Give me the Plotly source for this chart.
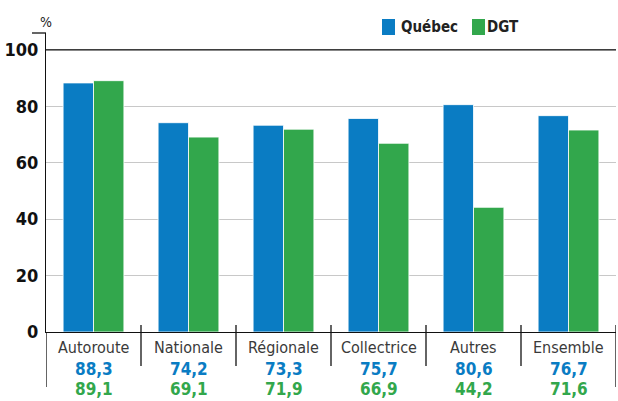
import plotly.graph_objects as go

categories = ["Autoroute", "Nationale", "Régionale", "Collectrice", "Autres", "Ensemble"]
quebec = [88.3, 74.2, 73.3, 75.7, 80.6, 76.7]
dgt = [89.1, 69.1, 71.9, 66.9, 44.2, 71.6]
quebec_labels = ["88,3", "74,2", "73,3", "75,7", "80,6", "76,7"]
dgt_labels = ["89,1", "69,1", "71,9", "66,9", "44,2", "71,6"]
series_names = ["Québec", "DGT"]
y_ticks = [0, 20, 40, 60, 80, 100]

BLUE = "#0a7cc3"
GREEN = "#32a74c"
FONT = "DejaVu Sans Condensed, Liberation Sans Narrow, Roboto, sans-serif"

W, H = 618, 401
ml, mr, mt, mb = 46, 2, 33, 69
ph = H - mt - mb
pw = W - ml - mr

def py(pix):
    return (H - mb - pix) / ph

def px(pix):
    return (pix - ml) / pw

x_idx = list(range(len(categories)))

fig = go.Figure()
fig.add_bar(x=x_idx, y=quebec, name=series_names[0], showlegend=False,
            marker=dict(color=BLUE, line=dict(color="white", width=0.8)))
fig.add_bar(x=x_idx, y=dgt, name=series_names[1], showlegend=False,
            marker=dict(color=GREEN, line=dict(color="white", width=0.8)))

LC = "#111"
shapes = []
shapes.append(dict(type="line", xref="paper", yref="y", x0=0, x1=1, y0=100, y1=100,
                   line=dict(color=LC, width=1.3)))
shapes.append(dict(type="line", xref="paper", yref="paper", x0=px(32), x1=0, y0=1, y1=1,
                   line=dict(color=LC, width=1.3)))
for i in range(len(categories) - 1):
    shapes.append(dict(type="line", xref="x", yref="paper", x0=i + 0.5, x1=i + 0.5,
                       y0=py(325), y1=py(366), line=dict(color=LC, width=1.3)))
shapes.append(dict(type="line", xref="x", yref="paper", x0=-0.5, x1=-0.5, y0=0, y1=py(387),
                   line=dict(color=LC, width=1.3)))
shapes.append(dict(type="line", xref="x", yref="paper", x0=5.5, x1=5.5, y0=py(325), y1=py(387),
                   line=dict(color=LC, width=1.3)))

# legend (manual): square left edge, text right edge
legend_items = [(series_names[0], BLUE, 382, 460), (series_names[1], GREEN, 472, 521)]
annotations = []
for name, col, sx, tx in legend_items:
    shapes.append(dict(type="rect", xref="paper", yref="paper", x0=px(sx), x1=px(sx + 13),
                       y0=py(35), y1=py(19), fillcolor=col, line=dict(width=0)))
    annotations.append(dict(x=px(tx), y=py(27), xref="paper", yref="paper", text="<b>%s</b>" % name,
                            showarrow=False, xanchor="right", yanchor="middle",
                            font=dict(family=FONT, size=15, color="#222")))

for i, c in enumerate(categories):
    annotations.append(dict(x=i, y=py(347), xref="x", yref="paper", text=c, showarrow=False,
                            font=dict(family=FONT, size=16, color="#3a3a3a"), yanchor="middle"))
    annotations.append(dict(x=i, y=py(369), xref="x", yref="paper", text="<b>%s</b>" % quebec_labels[i],
                            showarrow=False, font=dict(family=FONT, size=17, color=BLUE), yanchor="middle"))
    annotations.append(dict(x=i, y=py(389), xref="x", yref="paper", text="<b>%s</b>" % dgt_labels[i],
                            showarrow=False, font=dict(family=FONT, size=17, color=GREEN), yanchor="middle"))
annotations.append(dict(x=px(38), y=py(22), xref="paper", yref="paper", text="%",
                        showarrow=False, font=dict(family=FONT, size=14, color="#222"), yanchor="middle"))

fig.update_layout(
    width=W, height=H,
    margin=dict(l=ml, r=mr, t=mt, b=mb),
    plot_bgcolor="white", paper_bgcolor="white",
    barmode="group", bargap=0.36, bargroupgap=0.0,
    font=dict(family=FONT),
    showlegend=False,
    xaxis=dict(range=[-0.5, 5.5], showticklabels=False, ticks="", showgrid=False,
               zeroline=False, showline=True, linecolor=LC, linewidth=1.3),
    yaxis=dict(range=[0, 106], tickvals=y_ticks, ticktext=[str(v) for v in y_ticks],
               showgrid=True, gridcolor="#c8c8c8", gridwidth=1.3, zeroline=False,
               showline=True, linecolor=LC, linewidth=1.3, ticks="", ticklabelstandoff=3,
               tickfont=dict(family=FONT, size=18, color="#111", weight="bold")),
    shapes=shapes, annotations=annotations,
)

fig.write_html("out.html", config={"displayModeBar": False},
               post_script="document.body.style.margin='0';document.body.style.padding='0';")
